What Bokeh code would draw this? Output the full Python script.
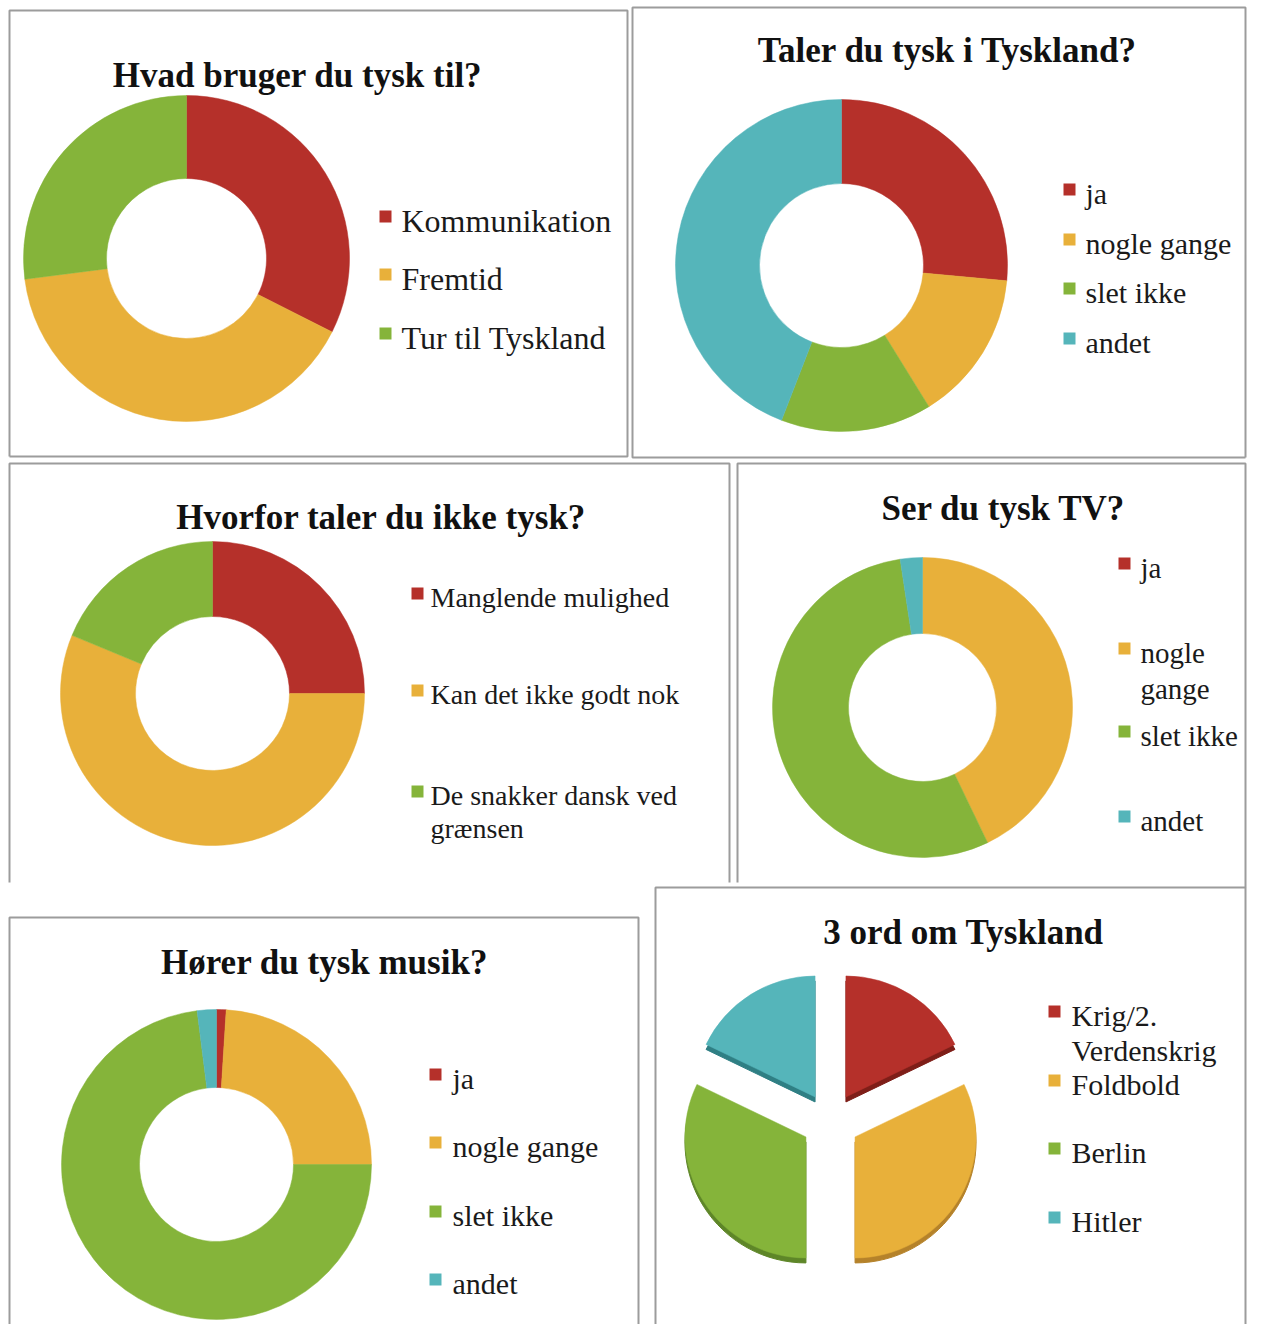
import numpy as np
from bokeh.plotting import figure
from bokeh.models import Range1d, ColumnDataSource
from bokeh.core.properties import value
from bokeh.embed import file_html
from bokeh.resources import INLINE

# ---------------- data ----------------
RED, YEL, GRN, TEA = "#B5302A", "#E8B03A", "#85B43A", "#55B5BA"

t1_title = "Hvad bruger du tysk til?"
t1_labels = ["Kommunikation", "Fremtid", "Tur til Tyskland"]
t1_values = [12, 15, 10]

t2_title = "Taler du tysk i Tyskland?"
t2_labels = ["ja", "nogle gange", "slet ikke", "andet"]
t2_values = [9, 5, 5, 15]

t3_title = "Hvorfor taler du ikke tysk?"
t3_labels = ["Manglende mulighed", "Kan det ikke godt nok", "De snakker dansk ved\ngrænsen"]
t3_values = [4, 9, 3]

t4_title = "Ser du tysk TV?"
t4_labels = ["ja", "nogle\ngange", "slet ikke", "andet"]
t4_values = [0, 18, 23, 1]

t5_title = "Hører du tysk musik?"
t5_labels = ["ja", "nogle gange", "slet ikke", "andet"]
t5_values = [1, 24, 73, 2]

t6_title = "3 ord om Tyskland"
t6_labels = ["Krig/2.\nVerdenskrig", "Foldbold", "Berlin", "Hitler"]
t6_values = [5, 9, 9, 5]

COLORS4 = [RED, YEL, GRN, TEA]
SHADOW4 = ["#7E1E18", "#B5822A", "#5E8628", "#2F7F84"]

# ---------------- layout ----------------
W, H = 1247, 1324
FONT = value("Liberation Serif")


def X(ix):
    return ix


def Y(iy):
    return H - iy


p = figure(width=W, height=H, output_backend="svg", toolbar_location=None,
           x_range=Range1d(0, W), y_range=Range1d(0, H), min_border=0)
p.axis.visible = False
p.grid.visible = False
p.outline_line_color = None
p.background_fill_color = "white"
p.border_fill_color = "white"

# panel borders (image coordinates)
BC = "#9C9C9C"
R_EDGE = 1245
borders = [
    [(9, 456), (9, 10), (627, 10), (627, 456), (9, 456)],            # P1
    [(R_EDGE, 457), (632, 457), (632, 7), (R_EDGE, 7), (R_EDGE, 457)],  # P2
    [(9, 882), (9, 463), (729, 463), (729, 882)],                     # P3
    [(737, 882), (737, 463), (R_EDGE, 463), (R_EDGE, 887)],           # P4
    [(R_EDGE, 1330), (R_EDGE, 887), (655, 887), (655, 1330)],         # P6
    [(9, 1330), (9, 917), (638, 917), (638, 1330)],                   # P5
]
p.multi_line(xs=[[X(a) for a, b in b_] for b_ in borders],
             ys=[[Y(b) for a, b in b_] for b_ in borders],
             line_color=BC, line_width=2)


def slice_angles(values):
    v = np.asarray(values, dtype=float)
    cum = np.concatenate([[0.0], np.cumsum(v)]) / v.sum()
    starts = np.pi / 2 - 2 * np.pi * cum[1:]
    ends = np.pi / 2 - 2 * np.pi * cum[:-1]
    keep = v > 0
    return starts, ends, keep


def donut(cx, cy, r_in, r_out, values, colors):
    s, e, k = slice_angles(values)
    src = ColumnDataSource(dict(start=s[k], end=e[k], color=[c for c, kk in zip(colors, k) if kk]))
    p.annular_wedge(x=X(cx), y=Y(cy), inner_radius=r_in, outer_radius=r_out,
                    start_angle="start", end_angle="end", fill_color="color",
                    line_color="color", line_width=0.5, source=src)


def exploded_pie(cx, cy, r, d, depth, values, colors, shadows):
    s, e, k = slice_angles(values)
    mid = (s + e) / 2
    xs = X(cx) + d * np.cos(mid)
    ys = Y(cy) + d * np.sin(mid)
    sh = ColumnDataSource(dict(x=xs, y=ys - depth, start=s, end=e, color=shadows))
    p.wedge(x="x", y="y", radius=r, start_angle="start", end_angle="end",
            fill_color="color", line_color="color", source=sh)
    top = ColumnDataSource(dict(x=xs, y=ys, start=s, end=e, color=colors))
    p.wedge(x="x", y="y", radius=r, start_angle="start", end_angle="end",
            fill_color="color", line_color="color", line_width=0.5, source=top)


def title(tx, ty, txt, size="35px"):
    p.text(x=[X(tx)], y=[Y(ty)], text=[txt], text_font=FONT, text_font_style="bold",
           text_font_size=size, text_align="center", text_baseline="middle",
           text_color="#111111")


def legend(sq_x, txt_x, ys, labels, colors, size, lh):
    tx, ty, tt = [], [], []
    for y0, lab in zip(ys, labels):
        for j, line in enumerate(lab.split("\n")):
            tx.append(X(txt_x))
            ty.append(Y(y0 + j * lh))
            tt.append(line)
    p.text(x=tx, y=ty, text=tt, text_font=FONT, text_font_size=size,
           text_align="left", text_baseline="middle", text_color="#1A1A1A")
    p.rect(x=[X(sq_x + 6)] * len(ys), y=[Y(y0 - 4) for y0 in ys], width=12, height=12,
           fill_color=list(colors[:len(ys)]), line_color=None)


# Panel 1
title(297, 75, t1_title)
donut(186, 258, 80, 163, t1_values, [RED, YEL, GRN])
legend(379, 401, [220, 278, 337], t1_labels, [RED, YEL, GRN], "32px", 34)

# Panel 2
title(947, 50, t2_title)
donut(841, 265, 82, 166, t2_values, COLORS4)
legend(1063, 1085, [193, 243, 292, 342], t2_labels, COLORS4, "30px", 34)

# Panel 3
title(381, 517, t3_title)
donut(212, 693, 77, 152, t3_values, [RED, YEL, GRN])
legend(411, 430, [597, 694, 795], t3_labels, [RED, YEL, GRN], "28px", 33)

# Panel 4
title(1003, 508, t4_title)
donut(922, 707, 74, 150, t4_values, COLORS4)
legend(1118, 1140, [567, 652, 735, 820], t4_labels, COLORS4, "29px", 36)

# Panel 5
title(324, 962, t5_title)
donut(216, 1164, 77, 155, t5_values, COLORS4)
legend(429, 452, [1078, 1146, 1215, 1283], t5_labels, COLORS4, "30px", 34)

# Panel 6
title(963, 932, t6_title)
exploded_pie(830, 1121, 121, 29, 5, t6_values, COLORS4, SHADOW4)
legend(1048, 1071, [1015, 1084, 1152, 1221], t6_labels, COLORS4, "30px", 35)

open("out.html", "w").write(file_html(p, INLINE))
